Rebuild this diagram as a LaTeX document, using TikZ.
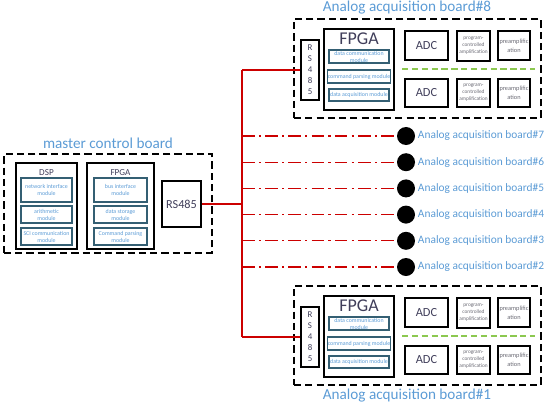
\documentclass[tikz,border=0pt]{standalone}
\usepackage{fontspec}
\setmainfont{Carlito}
\usetikzlibrary{positioning}

\definecolor{lblblue}{RGB}{91,155,213}
\definecolor{busred}{RGB}{204,0,0}
\definecolor{modteal}{RGB}{52,95,115}
\definecolor{sepgreen}{RGB}{140,200,80}
\definecolor{chiptext}{RGB}{64,62,90}
\definecolor{smalltext}{RGB}{105,105,115}

\newcommand{\fsz}[1]{\fontsize{#1}{1.2\dimexpr#1pt\relax}\selectfont}

\tikzset{
  sz/.style 2 args={minimum width=#1*0.025cm, minimum height=#2*0.025cm},
  board/.style={draw, line width=1pt, dash pattern=on 5pt off 3pt, inner sep=0pt},
  chip/.style={draw, line width=1.1pt, inner sep=0pt, align=center, text=chiptext},
  module/.style={draw=modteal, line width=1pt, inner sep=0pt, align=center, text=lblblue, font=\fontsize{4.2}{5}\selectfont},
  amp/.style={chip, text=smalltext, font=\fontsize{3.8}{5}\selectfont},
  bus/.style={busred, line width=0.9pt},
  tap/.style={busred, line width=0.9pt, dash pattern=on 9pt off 3pt on 1.5pt off 3pt},
  title/.style={text=lblblue, font=\fsz{10.8}},
  dot/.style={circle, fill=black, minimum size=0.45cm, inner sep=0pt},
}

\begin{document}
\begin{tikzpicture}[x=0.025cm, y=-0.025cm]
    \useasboundingbox (0,0) rectangle (550,407);

    % Master control board
    \node[board, sz={208}{99}] (mcb) at (108,203.5) {};
    \node[title] (mcbt) at (108,143) {master control board};

    % DSP
    \node[chip, sz={61}{86}] (dsp) at (46.5,206) {};
    \node[text=chiptext, font=\fsz{6.5}] (dspl) at (46.5,172.5) {DSP};
    \node[module, sz={51}{24}] (dsp1) at (46.5,190) {network interface\\module};
    \node[module, sz={51}{17}] (dsp2) at (46.5,214.5) {arithmetic\\module};
    \node[module, sz={51}{17}] (dsp3) at (46.5,236.5) {SCI communication\\module};

    % FPGA
    \node[chip, sz={67}{86}] (mfpga) at (120.5,206) {};
    \node[text=chiptext, font=\fsz{6.5}] (mfpgal) at (120.5,172.5) {FPGA};
    \node[module, sz={53}{24}] (mf1) at (120.5,190) {bus interface\\module};
    \node[module, sz={53}{17}] (mf2) at (120.5,214.5) {data storage\\module};
    \node[module, sz={53}{17}] (mf3) at (120.5,236.5) {Command parsing\\module};

    % RS485
    \node[chip, sz={39}{46}, font=\fsz{8.7}] (mrs) at (181.5,204) {RS485};

    % Bus
    \coordinate (bustop) at (242,70);
    \coordinate (busbot) at (242,337);
    \draw[bus] (bustop) -- (busbot);
    \draw[bus] (mrs.east) -- (mrs.east -| bustop);

    % Boards #7 ... #2
    \foreach \n [count=\i] in {7,...,2} {
        \node[dot] (d\n) at (406,{136+(\i-1)*26.2}) {};
        \draw[tap] (d\n -| bustop) -- (d\n.west);
        \node[right=0.06cm of d\n, inner sep=0pt, text=lblblue, font=\fsz{8.1}] (l\n) {Analog acquisition board\#\n};
    }

    % Boards #8 and #1
    \foreach \b/\dy/\ty in {8/0/8, 1/267/396} {
        \node[board, sz={247}{99}] (b\b) at (417.5,{68.5+\dy}) {};
        \node[title] (bt\b) at (407,\ty) {Analog acquisition board\#\b};
        % RS485
        \node[chip, sz={18}{60}, font=\fontsize{6.3}{7.8}\selectfont] (rs\b) at (310,{70+\dy}) {R\\S\\4\\8\\5};
        \draw[bus] (rs\b.west) -- (rs\b.west -| bustop);
        % FPGA
        \node[chip, sz={70}{81}] (f\b) at (359,{69.5+\dy}) {};
        \node[text=chiptext, font=\fsz{12.8}] (fl\b) at (359,{38.5+\dy}) {FPGA};
        \node[module, sz={60}{13}] (fa\b) at (359,{56.5+\dy}) {data communication\\module};
        \node[module, sz={60}{13}] (fb\b) at (359,{76.5+\dy}) {command parsing module};
        \node[module, sz={60}{12}] (fc\b) at (359,{95+\dy}) {data acquisition module};
        % Channels
        \node[chip, sz={43}{29}, font=\fsz{8.8}] (adca\b) at (426.5,{45.5+\dy}) {ADC};
        \node[amp, sz={33}{30}] (pga\b) at (473.5,{46+\dy}) {program-\\controlled\\amplification};
        \node[amp, sz={32}{29}, font=\fontsize{4.5}{6.2}\selectfont] (pra\b) at (514,{45.5+\dy}) {preamplific\\ation};
        \draw[sepgreen, line width=1pt, dash pattern=on 4.5pt off 2.5pt] (402,{69+\dy}) -- (535,{69+\dy});
        \node[chip, sz={43}{28}, font=\fsz{8.8}] (adcb\b) at (426.5,{93+\dy}) {ADC};
        \node[amp, sz={33}{28}] (pgb\b) at (473.5,{93+\dy}) {program-\\controlled\\amplification};
        \node[amp, sz={32}{28}, font=\fontsize{4.5}{6.2}\selectfont] (prb\b) at (514,{93+\dy}) {preamplific\\ation};
    }
\end{tikzpicture}
\end{document}
